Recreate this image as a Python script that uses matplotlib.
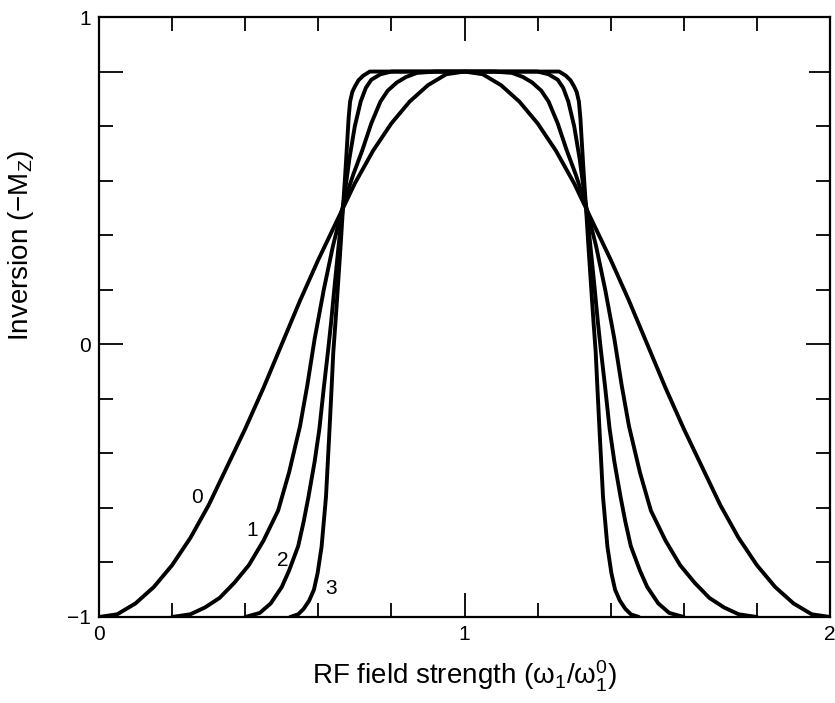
import matplotlib
matplotlib.use("Agg")
import matplotlib.pyplot as plt
from matplotlib.ticker import MultipleLocator

plt.rcParams['font.family'] = ['Liberation Sans', 'DejaVu Sans']
plt.rcParams['mathtext.fontset'] = 'custom'
plt.rcParams['mathtext.rm'] = 'Liberation Sans'
plt.rcParams['mathtext.it'] = 'Liberation Sans'

# curve 0: simple pulse
x0 = [0.0, 0.05, 0.1, 0.15, 0.2, 0.25, 0.3, 0.35, 0.4, 0.45, 0.5, 0.55, 0.6, 0.65, 0.7, 0.75, 0.8, 0.85, 0.9, 0.95, 1.0,
      1.05, 1.1, 1.15, 1.2, 1.25, 1.3, 1.35, 1.4, 1.45, 1.5, 1.55, 1.6, 1.65, 1.7, 1.75, 1.8, 1.85, 1.9, 1.95, 2.0]
y0 = [-1.0, -0.99, -0.95, -0.89, -0.81, -0.71, -0.59, -0.45, -0.31, -0.16, 0.0, 0.16, 0.31, 0.45, 0.59, 0.71, 0.81, 0.89, 0.95, 0.99, 1.0,
      0.99, 0.95, 0.89, 0.81, 0.71, 0.59, 0.45, 0.31, 0.16, 0.0, -0.16, -0.31, -0.45, -0.59, -0.71, -0.81, -0.89, -0.95, -0.99, -1.0]

# curve 1
x1 = [0.2, 0.25, 0.29, 0.33, 0.37, 0.41, 0.45, 0.49, 0.52, 0.55, 0.57, 0.59, 0.615, 0.64, 0.668, 0.695, 0.72, 0.745, 0.77, 0.79, 0.815, 0.84, 0.87, 0.92, 1.0,
      1.08, 1.13, 1.16, 1.185, 1.21, 1.23, 1.255, 1.28, 1.305, 1.332, 1.36, 1.385, 1.41, 1.43, 1.45, 1.48, 1.51, 1.55, 1.59, 1.63, 1.67, 1.71, 1.75, 1.8]
y1 = [-1.0, -0.99, -0.965, -0.93, -0.875, -0.81, -0.72, -0.61, -0.47, -0.3, -0.15, 0.02, 0.2, 0.36, 0.51, 0.62, 0.71, 0.81, 0.89, 0.93, 0.96, 0.98, 0.995, 1.0, 1.0,
      1.0, 0.995, 0.98, 0.96, 0.93, 0.89, 0.81, 0.71, 0.62, 0.51, 0.36, 0.2, 0.02, -0.15, -0.3, -0.47, -0.61, -0.72, -0.81, -0.875, -0.93, -0.965, -0.99, -1.0]

# curve 2
x2 = [0.4, 0.44, 0.47, 0.5, 0.52, 0.545, 0.56, 0.573, 0.59, 0.603, 0.615, 0.627, 0.635, 0.645, 0.657, 0.668, 0.685, 0.7, 0.716, 0.73, 0.745, 0.77, 0.8, 1.0,
      1.2, 1.23, 1.255, 1.27, 1.284, 1.3, 1.315, 1.332, 1.343, 1.355, 1.365, 1.373, 1.385, 1.397, 1.41, 1.427, 1.44, 1.455, 1.48, 1.5, 1.53, 1.56, 1.6]
y2 = [-1.0, -0.985, -0.95, -0.89, -0.83, -0.74, -0.65, -0.56, -0.43, -0.31, -0.16, -0.02, 0.08, 0.22, 0.38, 0.51, 0.68, 0.8, 0.89, 0.94, 0.97, 0.99, 1.0, 1.0,
      1.0, 0.99, 0.97, 0.94, 0.89, 0.8, 0.68, 0.51, 0.38, 0.22, 0.08, -0.02, -0.16, -0.31, -0.43, -0.56, -0.65, -0.74, -0.83, -0.89, -0.95, -0.985, -1.0]

# curve 3
x3 = [0.523, 0.545, 0.56, 0.575, 0.588, 0.598, 0.609, 0.621, 0.63, 0.636, 0.641, 0.648, 0.655, 0.661, 0.668, 0.674, 0.679, 0.683, 0.687, 0.693, 0.7, 0.71, 0.723, 0.741, 1.0,
      1.259, 1.277, 1.29, 1.3, 1.307, 1.313, 1.317, 1.321, 1.326, 1.332, 1.339, 1.345, 1.352, 1.359, 1.364, 1.37, 1.379, 1.391, 1.402, 1.412, 1.425, 1.44, 1.455, 1.477]
y3 = [-1.0, -0.99, -0.97, -0.94, -0.9, -0.84, -0.742, -0.56, -0.33, -0.17, -0.03, 0.1, 0.24, 0.36, 0.51, 0.63, 0.74, 0.83, 0.89, 0.925, 0.945, 0.968, 0.985, 1.0, 1.0,
      1.0, 0.985, 0.968, 0.945, 0.925, 0.89, 0.83, 0.74, 0.63, 0.51, 0.36, 0.24, 0.1, -0.03, -0.17, -0.33, -0.56, -0.742, -0.84, -0.9, -0.94, -0.97, -0.99, -1.0]

curve_names = ["0", "1", "2", "3"]
label_x = [0.269, 0.418, 0.502, 0.634]
label_y = [-0.561, -0.682, -0.791, -0.894]

fig = plt.figure(figsize=(8.35, 7.03), dpi=100)
ax = fig.add_axes([99 / 835, 1 - 617 / 703, 731 / 835, 600 / 703])

for xs, ys in [(x0, y0), (x1, y1), (x2, y2), (x3, y3)]:
    ax.plot(xs, ys, color="black", lw=2.8, solid_joinstyle="round", solid_capstyle="round")

for name, lx, ly in zip(curve_names, label_x, label_y):
    ax.text(lx, ly, name, fontsize=15, ha="center", va="center")

ax.set_xlim(0, 2)
ax.set_ylim(-1, 1.2)

ax.set_xticks([0, 1, 2])
ax.set_xticklabels(["0", "1", "2"])
ax.set_yticks([-1, 0, 1.2])
ax.set_yticklabels(["\u22121", "0", "1"])
ax.xaxis.set_minor_locator(MultipleLocator(0.2))
ax.yaxis.set_minor_locator(MultipleLocator(0.2))

ax.tick_params(which="both", direction="in", top=True, right=True, width=1.3, labelsize=15, color="black")
ax.tick_params(which="major", length=17, pad=6)
ax.tick_params(which="minor", length=10)

# longer tick at y = 1.0
for t, v in zip(ax.yaxis.get_minor_ticks(), ax.yaxis.get_minorticklocs()):
    if abs(v - 1.0) < 1e-6:
        t.tick1line.set_markersize(17)
        t.tick2line.set_markersize(15)

for s in ax.spines.values():
    s.set_linewidth(1.6)

ax.set_xlabel("RF field strength (\u03c9$_1$/\u03c9$_1^0$)", fontsize=20, labelpad=10)
ax.set_ylabel("Inversion (\u2212M$_\\mathrm{Z}$)", fontsize=20)
ax.yaxis.set_label_coords(-0.086, 0.62)

fig.savefig("out.png", dpi=100)
